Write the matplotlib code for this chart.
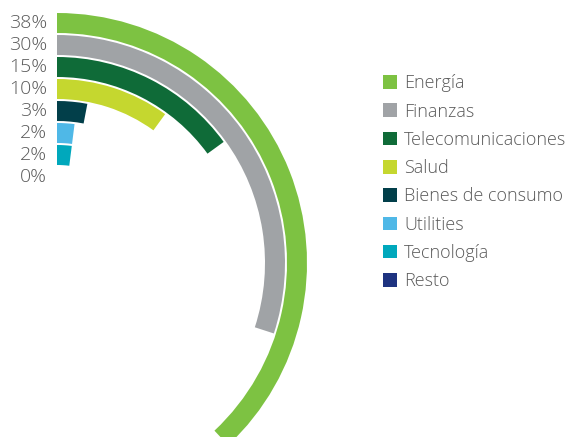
import numpy as np
import matplotlib.pyplot as plt
from matplotlib.patches import Patch

plt.rcParams['font.family'] = ['Open Sans', 'DejaVu Sans']

sectors = ['Energía', 'Finanzas', 'Telecomunicaciones', 'Salud',
           'Bienes de consumo', 'Utilities', 'Tecnología', 'Resto']
shares = [38, 30, 15, 10, 3, 2, 2, 0]
labels = ['38%', '30%', '15%', '10%', '3%', '2%', '2%', '0%']
colors = ['#7DC242', '#A0A3A6', '#0F6B38', '#C5D72F',
          '#023F4A', '#4FB8E7', '#00A8BC', '#1E3380']

W, H = 568, 437
fig = plt.figure(figsize=(W / 100, H / 100), dpi=100)

# polar axes centred at pixel (57, 263) from top-left, radius 250 px
cx, cy, R = 57, 263, 250
ax = fig.add_axes([(cx - R) / W, (H - cy - R) / H, 2 * R / W, 2 * R / H],
                  projection='polar')
ax.set_theta_zero_location('N')
ax.set_theta_direction(-1)
ax.set_ylim(0, R)
ax.axis('off')

radii = [R - 10 - 22 * i for i in range(len(sectors))]
thetas = [2 * np.pi * s / 100 for s in shares]
ax.barh(radii, thetas, left=0, height=20, color=colors, align='center',
        edgecolor='none', clip_on=False)

for r, lab in zip(radii, labels):
    ax.annotate(lab, xy=(0, r), xytext=(-7, 0), textcoords='offset points',
                ha='right', va='center', fontsize=14, fontweight='light',
                color='#5a5a5a', annotation_clip=False)

handles = [Patch(facecolor=c, edgecolor='none') for c in colors]
fig.legend(handles, sectors, loc='upper left', bbox_to_anchor=(376 / W, 1 - 67 / H),
           frameon=False, handlelength=0.78, handleheight=0.78,
           handletextpad=0.38, labelspacing=0.57, labelcolor='#5a5a5a',
           borderaxespad=0, prop={'weight': 'light', 'size': 13})

fig.savefig('out.png', dpi=100)
